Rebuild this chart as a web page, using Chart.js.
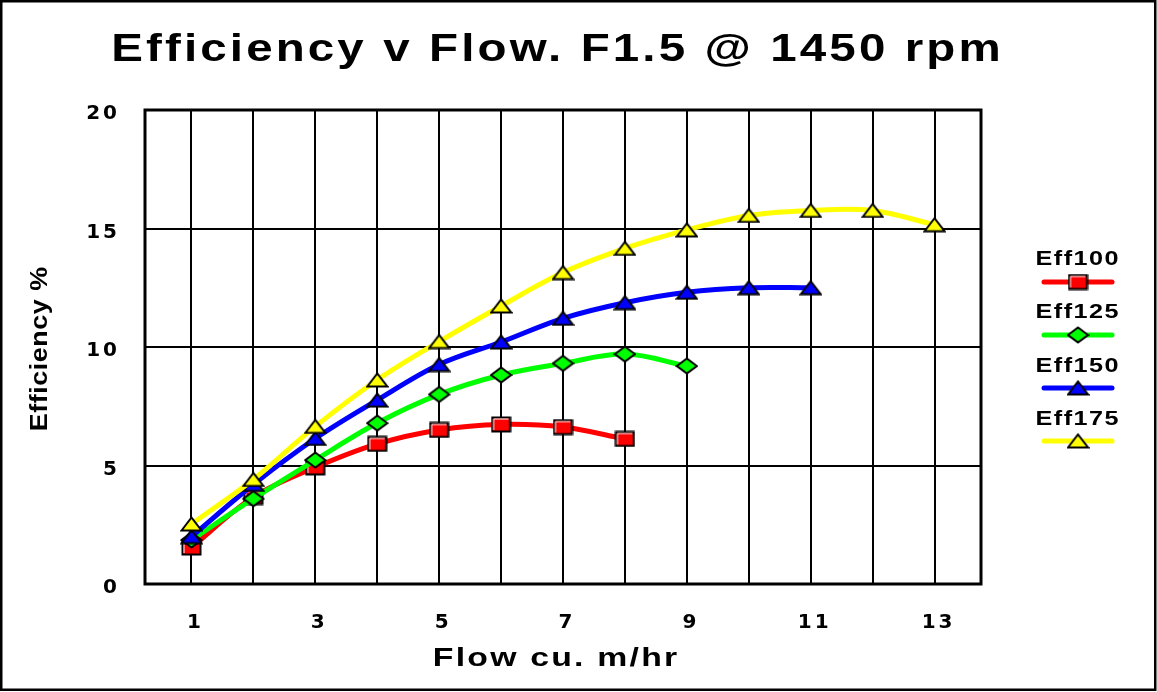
<!DOCTYPE html>
<html>
<head>
<meta charset="utf-8">
<script src="https://cdn.jsdelivr.net/npm/chart.js@4.4.1/dist/chart.umd.min.js"></script>
<style>
  html, body { margin: 0; padding: 0; background: #fff; }
  canvas { display: block; }
</style>
</head>
<body>
<canvas id="chart" width="1157" height="692"></canvas>
<script>
const chartTitle = 'Efficiency v Flow. F1.5 @ 1450 rpm'
const xTitle = 'Flow cu. m/hr'
const yTitle = 'Efficiency %'

const flow = [1, 2, 3, 4, 5, 6, 7, 8, 9, 10, 11, 12, 13]
const xTickLabels = ['1', '3', '5', '7', '9', '11', '13']
const yTicks = [0, 5, 10, 15, 20]

const seriesNames = ['Eff100', 'Eff125', 'Eff150', 'Eff175']
const eff100 = [1.54, 3.67, 4.92, 5.91, 6.5, 6.73, 6.62, 6.12]
const eff125 = [1.86, 3.6, 5.23, 6.79, 8.0, 8.82, 9.31, 9.7, 9.2]
const eff150 = [2.0, 4.2, 6.14, 7.76, 9.26, 10.21, 11.21, 11.87, 12.31, 12.5, 12.5]
const eff175 = [2.53, 4.41, 6.65, 8.61, 10.23, 11.73, 13.14, 14.16, 14.94, 15.55, 15.76, 15.76, 15.16]

const lineColors = ['#ff0000', '#00ff00', '#0000ff', '#ffff00']
const markerShapes = ['square', 'diamond', 'triangle', 'triangle']

// excel style markers, a bit wider than tall
function makeMarker(shape, fill) {
    const c = document.createElement('canvas')
    const w = shape === 'square' ? 21 : 23
    const h = shape === 'square' ? 17 : (shape === 'diamond' ? 18 : 16)
    c.width = w
    c.height = h
    const g = c.getContext('2d')
    g.fillStyle = fill
    g.strokeStyle = '#000'
    g.lineWidth = 2
    g.beginPath()
    if (shape === 'square') {
        g.rect(1.5, 1.5, w - 3, h - 3)
    } else if (shape === 'diamond') {
        g.moveTo(1.5, h / 2)
        g.lineTo(w / 2, 1.5)
        g.lineTo(w - 1.5, h / 2)
        g.lineTo(w / 2, h - 1.5)
        g.closePath()
    } else {
        g.moveTo(1.5, h - 1.5)
        g.lineTo(w / 2, 1.5)
        g.lineTo(w - 1.5, h - 1.5)
        g.closePath()
    }
    g.fill()
    g.stroke()
    if (shape === 'square') {
        g.strokeStyle = '#fff'
        g.lineWidth = 1
        g.beginPath()
        g.moveTo(3, h - 3)
        g.lineTo(3, 3)
        g.lineTo(w - 3, 3)
        g.stroke()
    }
    return c
}

const markers = markerShapes.map((s, i) => makeMarker(s, lineColors[i]))

function toPoints(values) {
    return values.map((v, i) => ({x: flow[i], y: v}))
}

const allSeries = [eff100, eff125, eff150, eff175]

const datasets = allSeries.map((values, i) => ({
    label: seriesNames[i],
    data: toPoints(values),
    borderColor: lineColors[i],
    backgroundColor: lineColors[i],
    borderWidth: 5,
    tension: 0.35,
    pointStyle: markers[i],
    pointRadius: 10,
    order: 4 - i
}))

// centred text, widened a little like the old excel output
function spacedText(ctx, text, cx, y, font, sp, sx) {
    ctx.save()
    ctx.font = font
    ctx.letterSpacing = sp + 'px'
    ctx.textAlign = 'left'
    ctx.textBaseline = 'alphabetic'
    const w = ctx.measureText(text).width - sp
    ctx.translate(cx, y)
    ctx.scale(sx, 1)
    ctx.fillText(text, -w / 2, 0)
    ctx.restore()
}

const decor = {
    id: 'decor',
    beforeDraw(chart) {
        chart.ctx.letterSpacing = '3px'
    },
    afterDraw(chart) {
        const ctx = chart.ctx
        const a = chart.chartArea
        ctx.save()
        ctx.letterSpacing = '0px'
        ctx.strokeStyle = '#000'
        ctx.lineWidth = 3
        ctx.strokeRect(a.left, a.top, a.right - a.left, a.bottom - a.top)
        ctx.lineWidth = 2.5
        ctx.strokeRect(1.25, 1.25, 1154, 688.5)

        ctx.fillStyle = '#000'
        spacedText(ctx, chartTitle, 556, 61, 'bold 38px "Liberation Sans", Arial', 2.5, 1.25)
        spacedText(ctx, xTitle, 555, 666, 'bold 26px "Liberation Sans", Arial', 1.7, 1.3)

        ctx.save()
        ctx.translate(47, 349)
        ctx.rotate(-Math.PI / 2)
        spacedText(ctx, yTitle, 0, 0, 'bold 24px "Liberation Sans", Arial', 0.5, 1.12)
        ctx.restore()

        // legend: name above a line sample with the marker
        seriesNames.forEach((name, i) => {
            const ty = 265 + 53.3 * i
            const ly = 282 + 53 * i
            ctx.fillStyle = '#000'
            spacedText(ctx, name, 1077, ty, 'bold 21px "Liberation Sans", Arial', 1.2, 1.2)
            ctx.strokeStyle = lineColors[i]
            ctx.lineWidth = 5
            ctx.lineCap = 'round'
            ctx.beginPath()
            ctx.moveTo(1044, ly)
            ctx.lineTo(1112, ly)
            ctx.stroke()
            const m = markers[i]
            ctx.drawImage(m, 1078 - m.width / 2, ly - m.height / 2)
        })
        ctx.restore()
        ctx.letterSpacing = '0px'
    }
}

const tickFont = {family: 'DejaVu Sans', weight: 'bold', size: 20}

new Chart(document.getElementById('chart'), {
    type: 'line',
    data: {datasets: datasets},
    options: {
        responsive: false,
        animation: false,
        devicePixelRatio: 1,
        layout: {padding: {left: 0, right: 176, top: 110, bottom: 0}},
        plugins: {
            legend: {display: false},
            tooltip: {enabled: false}
        },
        scales: {
            x: {
                type: 'linear',
                min: 0.25,
                max: 13.75,
                afterBuildTicks: s => { s.ticks = flow.map(v => ({value: v})) },
                afterFit: s => { s.height = 108 },
                grid: {color: '#000', lineWidth: 2, drawTicks: false},
                border: {display: false},
                ticks: {
                    padding: 27,
                    labelOffset: 4,
                    color: '#000',
                    font: tickFont,
                    autoSkip: false,
                    maxRotation: 0,
                    callback: v => xTickLabels.includes(String(v)) ? String(v) : ''
                }
            },
            y: {
                min: 0,
                max: 20,
                afterBuildTicks: s => { s.ticks = yTicks.map(v => ({value: v})) },
                afterFit: s => { s.width = 145 },
                grid: {color: '#000', lineWidth: 2, drawTicks: false},
                border: {display: false},
                ticks: {
                    padding: 25,
                    labelOffset: 4,
                    color: '#000',
                    font: tickFont
                }
            }
        }
    },
    plugins: [decor]
})
</script>
</body>
</html>
